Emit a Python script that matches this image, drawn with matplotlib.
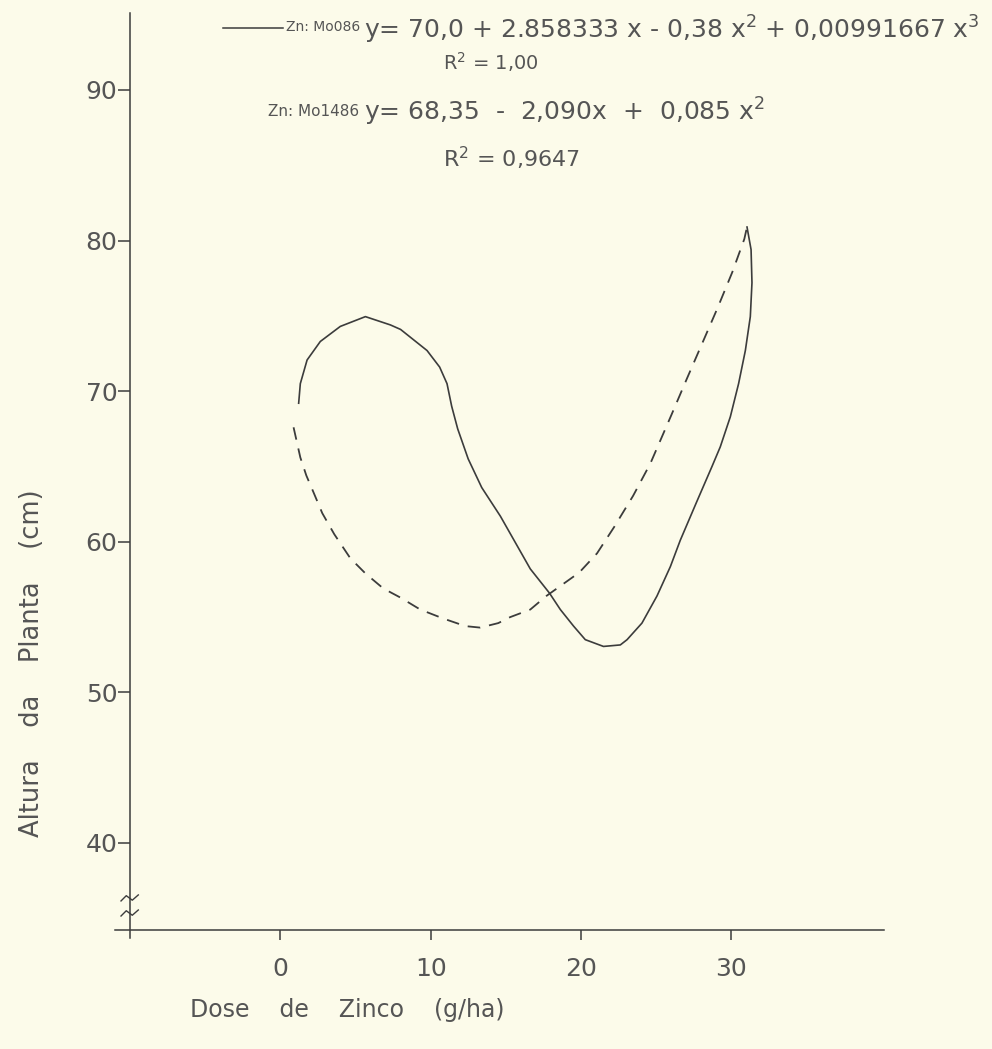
import matplotlib
matplotlib.use("Agg")
import matplotlib.pyplot as plt
from matplotlib.lines import Line2D
from matplotlib import font_manager

# ---- data ----
mo086_x = [1.22, 1.33, 1.78, 2.66, 3.99, 5.66, 7.32, 8.0, 9.76, 10.6, 11.09, 11.4, 11.8,
           12.5, 13.4, 14.64, 16.63, 17.9, 18.63, 19.51, 20.29, 21.5, 22.62, 23.07, 24.06,
           25.06, 25.95, 26.61, 27.68, 28.72, 29.27, 29.94, 30.49, 30.94, 31.27, 31.38,
           31.32, 31.05]
mo086_y = [69.2, 70.5, 72.07, 73.3, 74.3, 74.95, 74.4, 74.1, 72.7, 71.6, 70.5, 69.0, 67.5,
           65.5, 63.6, 61.7, 58.2, 56.6, 55.5, 54.4, 53.5, 53.05, 53.15, 53.5, 54.6,
           56.4, 58.35, 60.1, 62.6, 65.0, 66.3, 68.3, 70.5, 72.7, 74.95, 77.2,
           79.4, 80.9]

mo1486_x = [0.88, 1.06, 1.33, 1.73, 2.2, 2.79, 3.59, 4.66, 5.66, 6.85, 7.98, 9.31, 10.85,
            12.31, 13.3, 14.5, 15.3, 16.63, 17.7, 19.89, 21.07, 22.21, 23.47, 24.62, 26.01,
            27.08, 28.08, 29.08, 30.07, 30.87, 31.05]
mo1486_y = [67.6, 66.8, 65.6, 64.4, 63.3, 61.9, 60.5, 58.9, 57.9, 56.9, 56.3, 55.5, 54.9,
            54.4, 54.3, 54.6, 55.0, 55.5, 56.4, 57.96, 59.23, 60.98, 63.05, 65.2, 68.4,
            70.9, 73.2, 75.5, 77.9, 80.1, 80.9]

x_ticks = [0, 10, 20, 30]
y_ticks = [40, 50, 60, 70, 80, 90]

eq1_name = "Zn: Mo086"
eq1 = "y= 70,0 + 2.858333 x - 0,38 x$^2$ + 0,00991667 x$^3$"
r1 = "R$^2$ = 1,00"
eq2_name = "Zn: Mo1486"
eq2 = "y= 68,35  -  2,090x  +  0,085 x$^2$"
r2 = "R$^2$ = 0,9647"
xlabel = "Dose    de    Zinco    (g/ha)"
ylabel = "Altura    da    Planta    (cm)"

# ---- style ----
W, H = 992, 1049
bg = "#fcfbea"
ink = "#3c3c3c"
txt = "#555555"
plt.rcParams['font.family'] = ['DejaVu Sans']
plt.rcParams['mathtext.fontset'] = 'dejavusans'

installed = {f.name for f in font_manager.fontManager.ttflist}
if 'Liberation Sans Narrow' in installed:
    name_family, name_size1, name_size2 = 'Liberation Sans Narrow', 13, 14
else:
    name_family, name_size1, name_size2 = 'DejaVu Sans', 10, 11

fig = plt.figure(figsize=(W / 100, H / 100), dpi=100, facecolor=bg)

def fx(px):
    return px / W

def fy(py):
    return 1 - py / H

# axes box in pixels
L, R, T, B = 115, 884, 13, 938
ax = fig.add_axes([fx(L), fy(B), (R - L) / W, (B - T) / H])
ax.set_facecolor(bg)
ax.set_xlim(-11, -11 + (R - L) / 15.03)
ax.set_ylim(33.69, 33.69 + (B - T) / 15.06)

for s in ['top', 'right']:
    ax.spines[s].set_visible(False)
ax.spines['left'].set_position(('data', -10))
ax.spines['bottom'].set_position(('data', 34.2))
for s in ['left', 'bottom']:
    ax.spines[s].set_color(ink)
    ax.spines[s].set_linewidth(1.1)

ax.set_xticks(x_ticks)
ax.set_yticks(y_ticks)
ax.tick_params(axis='y', direction='out', length=9, width=1.1, color=ink,
               labelsize=18, labelcolor=txt, pad=0)
ax.tick_params(axis='x', direction='out', length=7, width=1.1, color=ink,
               labelsize=18, labelcolor=txt, pad=12)

# curves
ax.plot(mo086_x, mo086_y, color=ink, lw=1.2, solid_joinstyle='round')
ax.plot(mo1486_x, mo1486_y, color=ink, lw=1.3, dashes=(7, 5))

# axis break marks (small waves crossing the y axis)
for yb in [36.3, 35.3]:
    ax.plot([-10.6, -10.25, -9.85, -9.45], [yb - 0.15, yb + 0.2, yb - 0.1, yb + 0.25],
            color=ink, lw=1.0, clip_on=False)

# legend / equations
fig.add_artist(Line2D([fx(223), fx(283)], [fy(28), fy(28)], color=ink, lw=1.1))
fig.text(fx(286), fy(27), eq1_name, fontsize=name_size1, family=name_family,
         color=txt, va='center', ha='left')
fig.text(fx(364), fy(30), eq1, fontsize=18, color=txt, va='center', ha='left')
fig.text(fx(443), fy(62), r1, fontsize=14, color=txt, va='center', ha='left')
fig.text(fx(268), fy(112), eq2_name, fontsize=name_size2, family=name_family,
         color=txt, va='center', ha='left')
fig.text(fx(364), fy(112), eq2, fontsize=18, color=txt, va='center', ha='left')
fig.text(fx(443), fy(158), r2, fontsize=16, color=txt, va='center', ha='left')

# axis labels
fig.text(fx(190), fy(1010), xlabel, fontsize=17, color=txt, va='center', ha='left')
fig.text(fx(32), fy(663), ylabel, fontsize=18.5, color=txt, va='center', ha='center',
         rotation=90)

fig.savefig("out.png", dpi=100, facecolor=bg)
